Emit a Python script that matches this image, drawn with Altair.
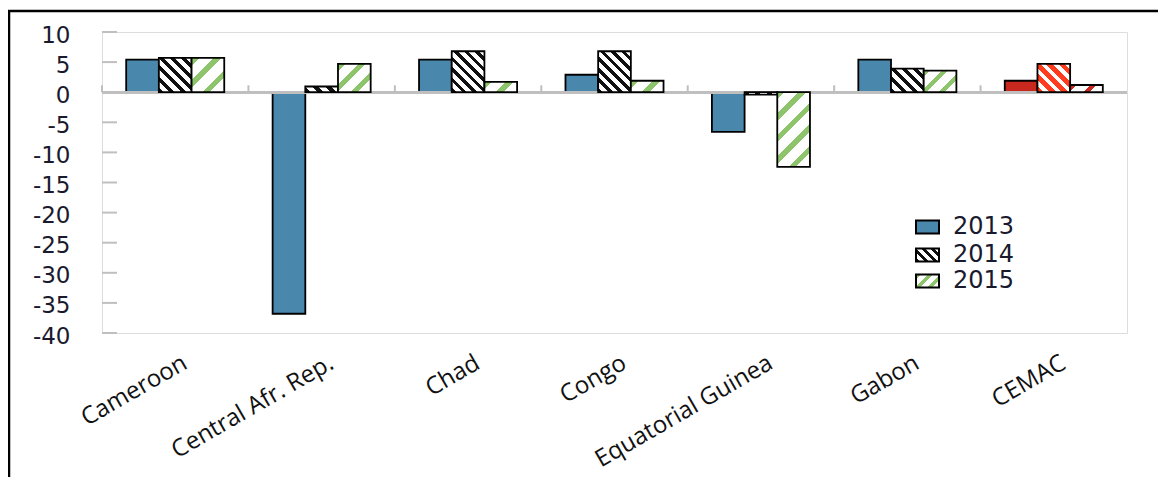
import altair as alt
import pandas as pd

# ---------------- data ----------------
countries = ["Cameroon", "Central Afr. Rep.", "Chad", "Congo",
             "Equatorial Guinea", "Gabon", "CEMAC"]
years = ["2013", "2014", "2015"]
v2013 = [5.4, -36.8, 5.4, 2.9, -6.6, 5.4, 1.9]
v2014 = [5.7, 0.95, 6.8, 6.8, -0.4, 3.9, 4.7]
v2015 = [5.7, 4.7, 1.7, 1.9, -12.4, 3.6, 1.2]
y_ticks = [10, 5, 0, -5, -10, -15, -20, -25, -30, -35, -40]

# ---------------- layout / style ----------------
PLOT_W, PLOT_H = 1025, 301
Y_MIN, Y_MAX = -40, 10
PX = PLOT_H / (Y_MAX - Y_MIN)
BAR_W = 32.7

BLUE = "#4A87AC"
GREEN = "#8DC46C"
RED = "#C8281E"
ORANGE = "#FF3C1E"
GRAY = "#BFBFBF"
TXT = "#1a1a2e"

records = []
for yr, vals in zip(years, [v2013, v2014, v2015]):
    for c, v in zip(countries, vals):
        records.append({"country": c, "year": yr, "value": v})
df = pd.DataFrame(records)


def stripes(c_a, c_b, frac, period, w, h, direction):
    h = max(h, 1.0)
    s = (w + h) / (w * w + h * h)
    if direction == "back":
        x1, y1, x2, y2 = 0, 1, s * w, 1 - s * h
    else:
        x1, y1, x2, y2 = 0, 0, s * w, s * h
    n = max(1, round((w + h) / (period * 2 ** 0.5)))
    stops = []
    for k in range(n):
        a, m, b = k / n, (k + frac) / n, (k + 1) / n
        stops += [alt.GradientStop(color=c_a, offset=a),
                  alt.GradientStop(color=c_a, offset=m),
                  alt.GradientStop(color=c_b, offset=m),
                  alt.GradientStop(color=c_b, offset=b)]
    return alt.LinearGradient(gradient="linear", stops=stops,
                              x1=x1, y1=y1, x2=x2, y2=y2)


x_axis = alt.Axis(title=None, domain=False, ticks=False, labelAngle=-30,
                  labelAlign="right", labelBaseline="middle",
                  labelFont="Open Sans", labelFontSize=24, labelColor="#111111",
                  labelPadding=28, labelOffset=10, labelLimit=500,
                  labelOverlap=False)
y_axis = alt.Axis(title=None, values=y_ticks, domain=False, ticks=False,
                  tickSize=0, grid=False, labelPadding=32,
                  labelExpr="datum.value + ''",
                  labelFont="DejaVu Sans", labelFontSize=23, labelColor=TXT,
                  labelOffset=3, labelFlush=False, labelOverlap=False)
x_scale = alt.Scale(domain=countries, paddingInner=0, paddingOuter=0)
y_scale = alt.Scale(domain=[Y_MIN, Y_MAX], nice=False, zero=False)

xenc = alt.X("country:N", sort=countries, scale=x_scale, axis=x_axis)
xoff = alt.XOffset("year:N", scale=alt.Scale(domain=years, paddingInner=0,
                                             paddingOuter=0.74))
yenc = alt.Y("value:Q", scale=y_scale, axis=y_axis)
y_zero = alt.YDatum(0, scale=y_scale, axis=y_axis)

layers = []

# 2013 bars (solid)
layers.append(alt.Chart(df).transform_filter(alt.datum.year == "2013")
              .mark_bar(stroke="black", strokeWidth=1.8)
              .encode(x=xenc, xOffset=xoff, y=yenc,
                      fill=alt.condition(alt.datum.country == "CEMAC",
                                         alt.value(RED), alt.value(BLUE))))

# zero line
layers.append(alt.Chart(df).mark_rule(color=GRAY, strokeWidth=2.5)
              .encode(y=y_zero))
# category separators on the zero line
layers.append(alt.Chart(pd.DataFrame({"country": countries}))
              .mark_rule(color=GRAY, strokeWidth=2)
              .encode(x=alt.X("country:N", bandPosition=0, sort=countries,
                              scale=x_scale, axis=x_axis),
                      y=y_zero, y2=alt.Y2Datum(1.15)))
# inward y ticks
layers.append(alt.Chart(pd.DataFrame({"value": y_ticks}))
              .mark_rule(color=GRAY, strokeWidth=2)
              .encode(x=alt.value(0), x2=alt.value(15), y=yenc))

# 2014 / 2015 bars (hatched)
for yr, vals in (("2014", v2014), ("2015", v2015)):
    for c, v in zip(countries, vals):
        h = abs(v) * PX
        cem = c == "CEMAC"
        if yr == "2014":
            grad = stripes(ORANGE if cem else "#111111", "white",
                           0.55 if cem else 0.45, 8, BAR_W, h, "back")
        else:
            grad = stripes(RED if cem else GREEN, "white",
                           0.3 if cem else 0.35, 15, BAR_W, h, "fwd")
        layers.append(
            alt.Chart(df)
            .transform_filter((alt.datum.country == c) & (alt.datum.year == yr))
            .mark_bar(fill=grad, stroke="black", strokeWidth=1.8)
            .encode(x=xenc, xOffset=xoff, y=yenc))

# manual legend
LEG_X0, LEG_X1, LEG_TX = 814, 837, 851
LEG_CY = [195, 223, 249]
LEG_H = 13
leg_fills = [BLUE,
             stripes("#111111", "white", 0.45, 6, 23, 13, "back"),
             stripes(GREEN, "white", 0.4, 10, 23, 13, "fwd")]
for yr, cy, f in zip(years, LEG_CY, leg_fills):
    ldf = pd.DataFrame({"label": [yr]})
    layers.append(alt.Chart(ldf).mark_rect(fill=f, stroke="black", strokeWidth=2)
                  .encode(x=alt.value(LEG_X0), x2=alt.value(LEG_X1),
                          y=alt.value(cy - LEG_H / 2), y2=alt.value(cy + LEG_H / 2)))
    layers.append(alt.Chart(ldf).mark_text(align="left", baseline="middle",
                                           font="DejaVu Sans", fontSize=24,
                                           color=TXT)
                  .encode(x=alt.value(LEG_TX), y=alt.value(cy), text="label:N"))

# outer black frame (top and left)
bdf = pd.DataFrame({"a": [0]})
layers.append(alt.Chart(bdf).mark_rule(color="black", strokeWidth=2.5)
              .encode(x=alt.value(-93), y=alt.value(-22), y2=alt.value(470)))
layers.append(alt.Chart(bdf).mark_rule(color="black", strokeWidth=2.5)
              .encode(x=alt.value(-94), x2=alt.value(1060), y=alt.value(-21)))

chart = (alt.layer(*layers)
         .properties(width=PLOT_W, height=PLOT_H,
                     padding={"left": 94, "top": 24, "right": 31, "bottom": 144},
                     autosize=alt.AutoSizeParams(type="none"))
         .configure_view(stroke=GRAY, strokeWidth=2.5)
         .configure(background="white"))

chart.save("out.html", embed_options={"renderer": "svg", "actions": False})
